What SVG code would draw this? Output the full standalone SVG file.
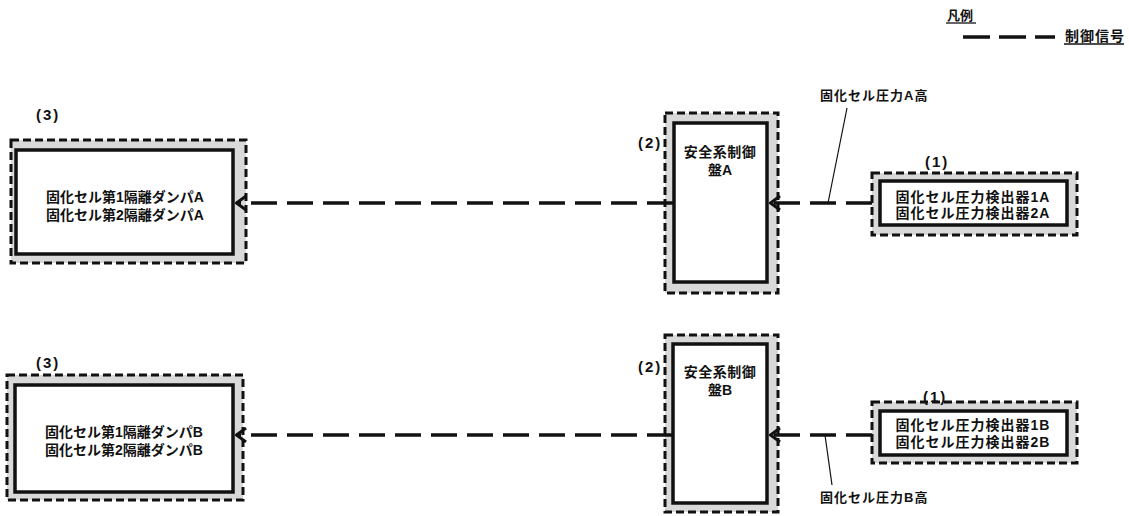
<svg xmlns="http://www.w3.org/2000/svg" width="1129" height="516" viewBox="0 0 1129 516">
<style>
.t{font-family:"Liberation Sans","Noto Sans CJK JP",sans-serif;font-weight:bold;font-size:13px;fill:#111}
.tc{text-anchor:middle}
.big{font-size:14px}
.outer{fill:#d9d9d9;stroke:#111;stroke-width:3;stroke-dasharray:8 4}
.inner{fill:#fff;stroke:#111;stroke-width:3.5}
.sig{fill:none;stroke:#111;stroke-width:3.5;stroke-dasharray:26 10}
.ann{fill:none;stroke:#111;stroke-width:1.2}
</style>
<defs>
<marker id="ah" viewBox="0 0 12 16" refX="11" refY="8" markerWidth="12" markerHeight="16" markerUnits="userSpaceOnUse" orient="auto">
<path d="M1,1 L10.5,8 L1,15" fill="none" stroke="#111" stroke-width="3"/>
</marker>
</defs>
<rect width="1129" height="516" fill="#fff"/>

<g id="legend">
<text class="t" x="947" y="20">凡例</text>
<line x1="946" y1="23" x2="976" y2="23" stroke="#111" stroke-width="1.3"/>
<line x1="963" y1="37" x2="1055" y2="37" class="sig" style="stroke-dasharray:27 9"/>
<text class="t" x="1065" y="41" style="font-size:14px;letter-spacing:1px">制御信号</text>
<line x1="1064" y1="44" x2="1124" y2="44" stroke="#111" stroke-width="1.3"/>
</g>

<g id="damperA">
<rect class="outer" x="11" y="140" width="235" height="123"/>
<rect class="inner" x="16" y="150" width="217" height="104"/>
<text class="t" x="36" y="120" style="font-size:15px;letter-spacing:2px">(3)</text>
<text class="t tc big" x="125" y="202">固化セル第1隔離ダンパA</text>
<text class="t tc big" x="125" y="220">固化セル第2隔離ダンパA</text>
</g>

<g id="panelA">
<rect class="outer" x="665" y="113" width="113" height="180"/>
<rect class="inner" x="674" y="123" width="93" height="159"/>
<text class="t" x="638" y="148" style="font-size:15px;letter-spacing:2px">(2)</text>
<text class="t tc big" x="720" y="157" style="letter-spacing:0.5px">安全系制御</text>
<text class="t tc big" x="720" y="175">盤A</text>
</g>

<g id="sensorA">
<rect class="outer" x="872" y="173" width="205" height="62"/>
<rect class="inner" x="880" y="181" width="187" height="44"/>
<text class="t" x="925" y="167" style="font-size:15px;letter-spacing:2px">(1)</text>
<text class="t tc big" x="973" y="202" style="letter-spacing:1px">固化セル圧力検出器1A</text>
<text class="t tc big" x="973" y="218" style="letter-spacing:1px">固化セル圧力検出器2A</text>
</g>

<g id="damperB">
<rect class="outer" x="7" y="375" width="236" height="125"/>
<rect class="inner" x="15" y="385" width="218" height="107"/>
<text class="t" x="36" y="368" style="font-size:15px;letter-spacing:2px">(3)</text>
<text class="t tc big" x="124" y="437">固化セル第1隔離ダンパB</text>
<text class="t tc big" x="124" y="455">固化セル第2隔離ダンパB</text>
</g>

<g id="panelB">
<rect class="outer" x="665" y="335" width="113" height="177"/>
<rect class="inner" x="673" y="344" width="94" height="159"/>
<text class="t" x="638" y="372" style="font-size:15px;letter-spacing:2px">(2)</text>
<text class="t tc big" x="720" y="377" style="letter-spacing:0.5px">安全系制御</text>
<text class="t tc big" x="720" y="395">盤B</text>
</g>

<g id="sensorB">
<rect class="outer" x="872" y="402" width="205" height="61"/>
<rect class="inner" x="880" y="411" width="187" height="44"/>
<text class="t" x="923" y="402" style="font-size:15px;letter-spacing:2px">(1)</text>
<text class="t tc big" x="973" y="430" style="letter-spacing:1px">固化セル圧力検出器1B</text>
<text class="t tc big" x="973" y="447" style="letter-spacing:1px">固化セル圧力検出器2B</text>
</g>

<g id="connectors">
<line class="sig" x1="872" y1="203" x2="770" y2="203" marker-end="url(#ah)"/>
<line class="sig" x1="673" y1="203" x2="236" y2="203" marker-end="url(#ah)"/>
<line class="sig" x1="872" y1="435" x2="770" y2="435" marker-end="url(#ah)"/>
<line class="sig" x1="673" y1="435" x2="236" y2="435" marker-end="url(#ah)"/>
</g>

<g id="annotations">
<line class="ann" x1="847" y1="108" x2="828" y2="203"/>
<text class="t" x="820" y="100" style="letter-spacing:1px">固化セル圧力A高</text>
<line class="ann" x1="825" y1="435" x2="832" y2="485"/>
<text class="t" x="820" y="502" style="letter-spacing:1px">固化セル圧力B高</text>
</g>
</svg>
